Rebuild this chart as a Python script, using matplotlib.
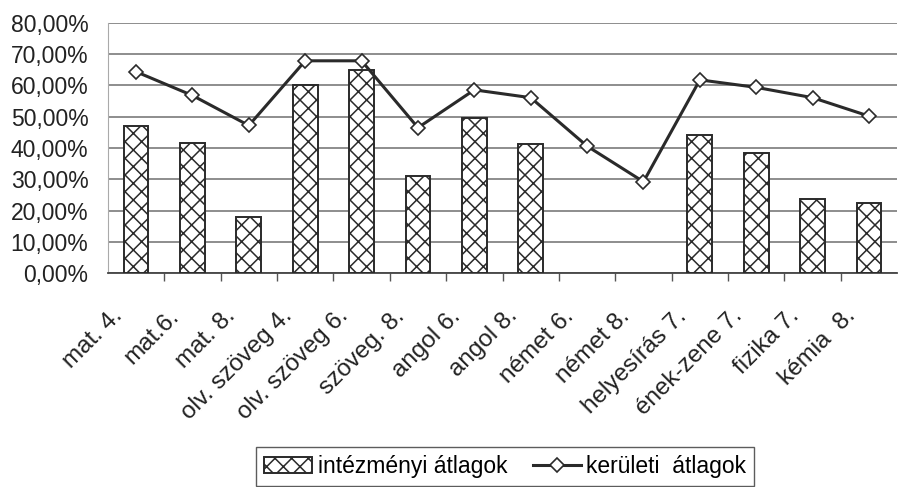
import numpy as np
import matplotlib
matplotlib.use("Agg")
import matplotlib.pyplot as plt
import matplotlib.transforms as mtransforms
from matplotlib.ticker import FuncFormatter

plt.rcParams['font.family'] = ['Liberation Sans', 'DejaVu Sans']
plt.rcParams['hatch.color'] = '#3a3a3a'
plt.rcParams['hatch.linewidth'] = 1.1

# adatok
targyak = ['mat. 4.', 'mat.6.', 'mat. 8.', 'olv. szöveg 4.', 'olv. szöveg 6.',
           'szöveg. 8.', 'angol 6.', 'angol 8.', 'német 6.', 'német 8.',
           'helyesírás 7.', 'ének-zene 7.', 'fizika 7.', 'kémia  8.']
intezmenyi = [47.0, 41.5, 18.0, 60.0, 65.0, 31.0, 49.5, 41.3,
              np.nan, np.nan, 44.2, 38.5, 23.8, 22.3]
keruleti = [64.4, 56.8, 47.2, 67.9, 67.9, 46.5, 58.6, 56.1,
            40.6, 29.2, 61.8, 59.4, 56.1, 50.2]
y_ticks = [0, 10, 20, 30, 40, 50, 60, 70, 80]

fig = plt.figure(figsize=(8.99, 4.87), dpi=100)
ax = fig.add_axes([0.120, 0.4394, 0.878, 0.5134])

x = np.arange(len(targyak))
bars = ax.bar(x, intezmenyi, width=0.44, color='white', edgecolor='#2a2a2a',
              linewidth=1.4, hatch='xx', label='intézményi átlagok', zorder=3)
line, = ax.plot(x, keruleti, color='#2a2a2a', linewidth=2.2, marker='D', markersize=7,
                markerfacecolor='white', markeredgecolor='#2a2a2a', markeredgewidth=1.2,
                label='kerületi  átlagok', zorder=4)

ax.set_xlim(-0.5, len(targyak) - 0.5)
ax.set_ylim(0, 80)
ax.set_yticks(y_ticks)
ax.yaxis.set_major_formatter(FuncFormatter(lambda v, p: f'{v:.2f}%'.replace('.', ',')))
ax.yaxis.grid(True, color='#7a7a7a', linewidth=1.2, zorder=0)
ax.set_axisbelow(True)
ax.tick_params(axis='y', length=0, pad=14, labelsize=16.5, colors='#222222')

# x tengely: osztásjelek a kategóriák között
ax.set_xticks(x)
ax.set_xticklabels(targyak, rotation=45, ha='right', fontsize=17.5, color='#222222')
ax.set_xticks(np.arange(0.5, len(targyak) - 0.5, 1), minor=True)
ax.tick_params(axis='x', which='major', length=0, pad=23)
ax.tick_params(axis='x', which='minor', length=6, width=1, color='#555555')
offset = mtransforms.ScaledTranslation(-0.09, 0, fig.dpi_scale_trans)
for lbl in ax.get_xticklabels():
    lbl.set_transform(lbl.get_transform() + offset)

for side in ['top', 'right']:
    ax.spines[side].set_visible(False)
ax.spines['left'].set_color('#aaaaaa')
ax.spines['bottom'].set_color('#444444')
ax.spines['bottom'].set_linewidth(1.3)

leg = fig.legend([bars, line], ['intézményi átlagok', 'kerületi  átlagok'],
                 loc='center', bbox_to_anchor=(0.562, 0.042), ncol=2,
                 fontsize=16.5, frameon=True, fancybox=False, edgecolor='#333333',
                 handlelength=2.1, handletextpad=0.25, columnspacing=1.1,
                 borderpad=0.35)
leg.get_frame().set_linewidth(1.0)

fig.savefig('out.png', dpi=100)
